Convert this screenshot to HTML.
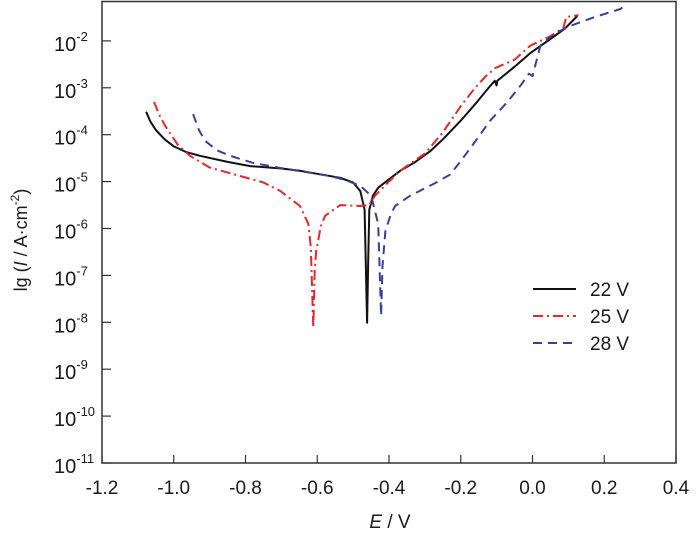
<!DOCTYPE html>
<html><head><meta charset="utf-8"><style>
body{margin:0;background:#fff;}
svg text{font-family:"Liberation Sans",Arial,sans-serif;fill:#1a1a1a;}
</style></head><body>
<svg id="c" width="700" height="535">
<g id="axes"></g><g id="series"></g><g id="legend"></g>
</svg>
<script>
const xTicks=[-1.2,-1.0,-0.8,-0.6,-0.4,-0.2,0.0,0.2,0.4];
const xTickLabels=["-1.2","-1.0","-0.8","-0.6","-0.4","-0.2","0.0","0.2","0.4"];
const yTicks=[-11,-10,-9,-8,-7,-6,-5,-4,-3,-2];
const seriesNames=["22 V","25 V","28 V"];
const e22=[-1.077,-1.065,-1.05,-1.025,-1.0,-0.965,-0.927,-0.85,-0.787,-0.7,-0.648,-0.536,-0.5,-0.48,-0.468,-0.461,-0.458,-0.455,-0.445,-0.43,-0.4,-0.369,-0.33,-0.285,-0.25,-0.2,-0.16,-0.118,-0.105,-0.1,-0.098,-0.05,-0.006,0.05,0.09,0.125];
const l22=[-3.51,-3.72,-3.9,-4.1,-4.25,-4.37,-4.45,-4.58,-4.67,-4.72,-4.77,-4.92,-5.02,-5.2,-5.6,-8.01,-6.69,-5.6,-5.3,-5.13,-4.95,-4.77,-4.6,-4.35,-4.1,-3.7,-3.35,-2.96,-2.85,-2.95,-2.85,-2.55,-2.26,-1.96,-1.74,-1.47];
const e25=[-1.055,-1.04,-1.024,-0.99,-0.955,-0.9,-0.815,-0.75,-0.703,-0.648,-0.625,-0.618,-0.611,-0.607,-0.603,-0.59,-0.578,-0.536,-0.48,-0.455,-0.439,-0.4,-0.369,-0.3,-0.25,-0.2,-0.16,-0.13,-0.118,-0.11,-0.05,-0.006,0.05,0.086,0.094,0.128];
const l25=[-3.3,-3.58,-3.81,-4.2,-4.45,-4.7,-4.88,-5.02,-5.2,-5.52,-5.9,-6.4,-8.12,-6.9,-6.48,-5.95,-5.73,-5.5,-5.52,-5.5,-5.3,-5.0,-4.77,-4.4,-3.95,-3.39,-3.0,-2.75,-2.68,-2.6,-2.4,-2.1,-1.9,-1.72,-1.49,-1.45];
const e28=[-0.946,-0.93,-0.913,-0.88,-0.843,-0.78,-0.703,-0.63,-0.564,-0.52,-0.48,-0.45,-0.43,-0.422,-0.418,-0.41,-0.395,-0.383,-0.341,-0.271,-0.23,-0.2,-0.16,-0.118,-0.07,-0.034,-0.01,0.0,0.022,0.06,0.105,0.17,0.245,0.259];
const l28=[-3.56,-3.9,-4.13,-4.33,-4.45,-4.6,-4.71,-4.8,-4.88,-4.97,-5.09,-5.3,-5.9,-7.86,-6.8,-6.05,-5.7,-5.52,-5.3,-5.03,-4.85,-4.56,-4.15,-3.7,-3.3,-2.96,-2.7,-2.75,-2.1,-1.85,-1.68,-1.5,-1.32,-1.23];
const colors=["#111","#e8262a","#3d3d9a"];
const dashes=["none","10 4 2 4","9 6"];
const X0=102,X1=676,Y0=463,Ytop=1.5;
const sx=e=>X0+(e+1.2)/1.6*(X1-X0);
const sy=l=>Y0-(l+11)*46.9;
const NS="http://www.w3.org/2000/svg";
function mk(tag,attrs,parent,txt){const el=document.createElementNS(NS,tag);for(const k in attrs)el.setAttribute(k,attrs[k]);if(txt!==undefined)el.textContent=txt;parent.appendChild(el);return el;}
const ax=document.getElementById('axes');
const frame=mk('rect',{x:X0,y:Ytop,width:X1-X0,height:Y0-Ytop,fill:'none',stroke:'#333','stroke-width':1.5},ax);


xTicks.forEach((v,i)=>{
  const x=sx(v);
  const t=mk('line',{x1:x,x2:x,y1:Y0,y2:Y0-8,stroke:'#333','stroke-width':1.2},ax);
  
  
  const lb=mk('text',{x:x,y:Y0+31,'text-anchor':'middle','font-size':19},ax,xTickLabels[i]);
  
  
});
yTicks.forEach(v=>{
  const y=sy(v);
  const t=mk('line',{x1:X0,x2:X0+9,y1:y,y2:y,stroke:'#333','stroke-width':1.2},ax);
  
  
  const lb=mk('text',{x:54,y:y+10,'font-size':20},ax);
  
  
  mk('tspan',{},lb,'10');
  mk('tspan',{dy:-10,'font-size':13},lb,String(v));
});
const xt=mk('text',{x:390,y:528,'text-anchor':'middle','font-size':19},ax);


mk('tspan',{'font-style':'italic'},xt,'E');mk('tspan',{},xt,' / V');
const yt=mk('text',{x:0,y:0,'text-anchor':'middle','font-size':18,transform:'translate(27,240) rotate(-90)'},ax);


mk('tspan',{},yt,'lg (');mk('tspan',{'font-style':'italic'},yt,'I');mk('tspan',{},yt,' / A·cm');
mk('tspan',{dy:-8,'font-size':12},yt,'-2');mk('tspan',{dy:8},yt,')');
const sg=document.getElementById('series');
[[e22,l22],[e25,l25],[e28,l28]].forEach((d,i)=>{
  const pts=d[0].map((e,j)=>sx(e).toFixed(1)+','+sy(d[1][j]).toFixed(1)).join(' ');
  const p=mk('polyline',{points:pts,fill:'none',stroke:colors[i],'stroke-width':2,'stroke-dasharray':dashes[i],'stroke-linejoin':'round'},sg);
  
  
});
const lg=document.getElementById('legend');
seriesNames.forEach((n,i)=>{
  const y=289+i*27;
  const l=mk('line',{x1:533,x2:576,y1:y,y2:y,stroke:colors[i],'stroke-width':2,'stroke-dasharray':dashes[i]},lg);
  
  
  const t=mk('text',{x:590,y:y+7,'font-size':19},lg,n);
  
  
});
</script>
</body></html>
